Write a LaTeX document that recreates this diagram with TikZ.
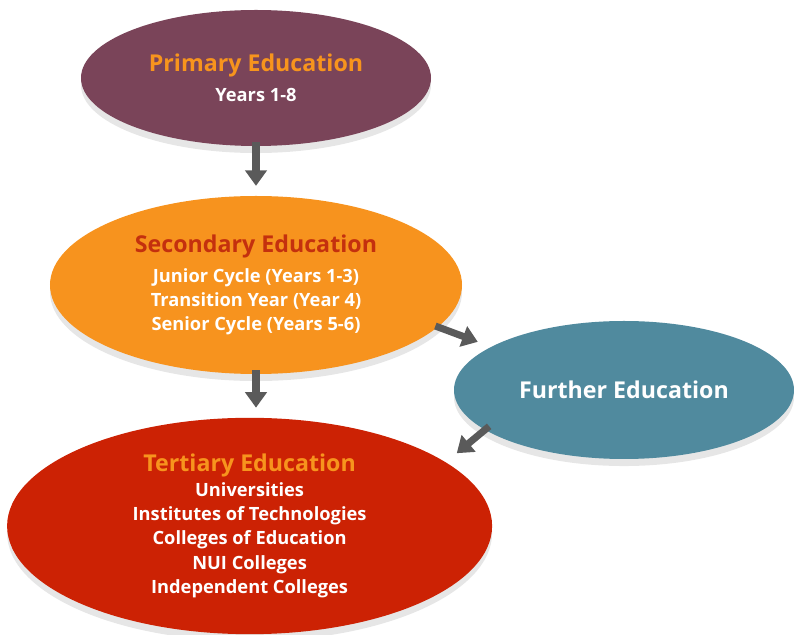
\documentclass[tikz,border=0pt]{standalone}
\usepackage{fontspec}
\setmainfont{Open Sans}
\definecolor{PrimaryPlum}{RGB}{122,68,89}
\definecolor{SecondaryOrange}{RGB}{247,147,30}
\definecolor{FurtherTeal}{RGB}{80,138,158}
\definecolor{TertiaryRed}{RGB}{204,34,4}
\definecolor{TitleOrange}{RGB}{247,148,29}
\definecolor{TitleRed}{RGB}{196,48,14}
\definecolor{ArrowGray}{RGB}{90,90,90}
\usepackage{tikz}
\usetikzlibrary{arrows.meta, shapes.geometric, shadows, positioning}

\tikzset{
	stage/.style={ellipse, draw=none, align=center, text=white,
		font=\bfseries\fontsize{13}{17.3}\selectfont,
		drop shadow={shadow xshift=0pt, shadow yshift=-5pt, opacity=0.2}},
	flowarrow/.style={ArrowGray, line width=5pt,
		-{Triangle[length=11pt, width=15pt]}}
}
\newcommand{\stagetitle}[2]{{\color{#1}\fontsize{16.5}{20}\selectfont #2}}

\begin{document}
\begin{tikzpicture}
	\useasboundingbox (0,0) rectangle (19.85,15.875);
	% stages
	\node[stage, fill=PrimaryPlum, minimum width=8.75cm, minimum height=3.4cm] (prim) at (6.4,13.925)
		{\stagetitle{TitleOrange}{Primary Education}\\[4pt]Years 1-8};
	\node[stage, fill=SecondaryOrange, minimum width=10.3cm, minimum height=4.45cm] (sec) at (6.4,8.75)
		{\stagetitle{TitleRed}{Secondary Education}\\[4pt]Junior Cycle (Years 1-3)\\Transition Year (Year 4)\\Senior Cycle (Years 5-6)};
	\node[stage, fill=FurtherTeal, minimum width=8.5cm, minimum height=3.45cm] (fur) at (15.6,6.125)
		{\stagetitle{white}{Further Education}};
	\node[stage, fill=TertiaryRed, minimum width=12.125cm, minimum height=5.3cm] (ter) at (6.24,2.725)
		{\stagetitle{TitleOrange}{Tertiary Education}\\Universities\\Institutes of Technologies\\Colleges of Education\\NUI Colleges\\Independent Colleges};
	% arrows
	\draw[flowarrow, shorten <=-3pt, shorten >=7pt] (prim.south) -- (sec.north);
	\draw[flowarrow, shorten <=-3pt, shorten >=7pt] (sec.south) -- (sec.south |- ter.north);
	\draw[flowarrow, shorten <=-2pt, shorten >=10pt] (sec.-13) -- (fur.162);
	\draw[flowarrow, shorten <=-4pt, shorten >=10pt] (fur.196) -- (ter.18);
\end{tikzpicture}
\end{document}
